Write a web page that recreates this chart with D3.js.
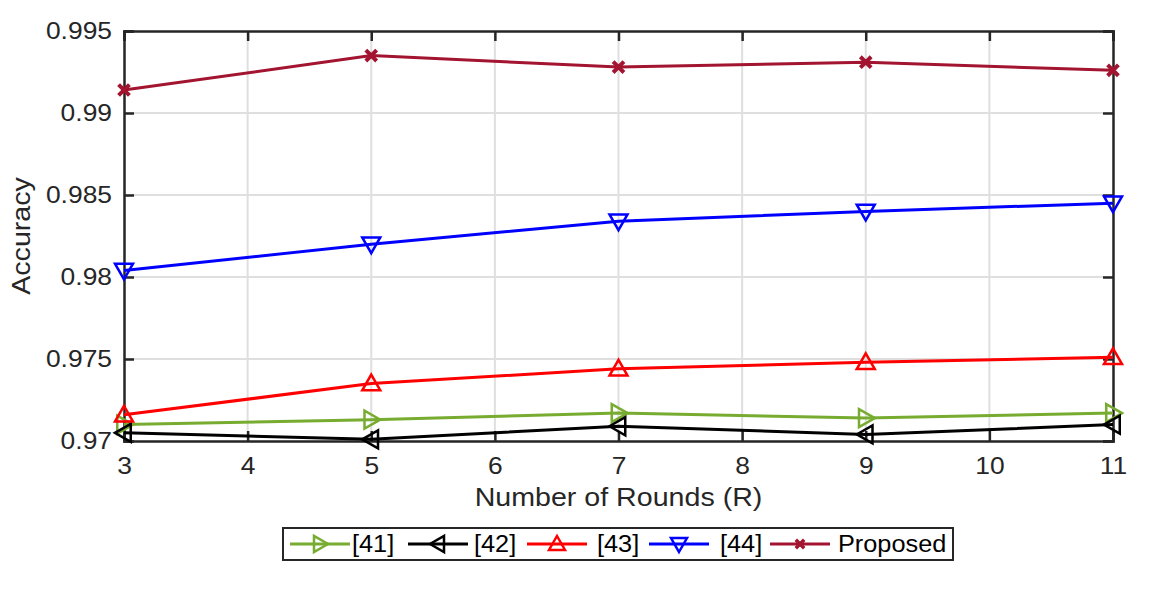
<!DOCTYPE html>
<html>
<head>
<meta charset="utf-8">
<script src="https://cdn.jsdelivr.net/npm/d3@7"></script>
<style>
  body { margin: 0; background: #fff; }
  text { font-family: "Liberation Sans", Arial, sans-serif; }
</style>
</head>
<body>
<div id="chart"></div>
<script>
var rounds = [3, 5, 7, 9, 11];
var xTicks = [3, 4, 5, 6, 7, 8, 9, 10, 11];
var yTicks = [0.97, 0.975, 0.98, 0.985, 0.99, 0.995];

var acc41 = [0.9710, 0.9713, 0.9717, 0.9714, 0.9717];
var acc42 = [0.9705, 0.9701, 0.9709, 0.9704, 0.9710];
var acc43 = [0.9716, 0.9735, 0.9744, 0.9748, 0.9751];
var acc44 = [0.9804, 0.9820, 0.9834, 0.9840, 0.9845];
var accProposed = [0.9914, 0.9935, 0.9928, 0.9931, 0.9926];

var seriesNames = ["[41]", "[42]", "[43]", "[44]", "Proposed"];

var series = [
  { name: seriesNames[0], values: acc41, color: "#77AC30", marker: "right" },
  { name: seriesNames[1], values: acc42, color: "#000000", marker: "left" },
  { name: seriesNames[2], values: acc43, color: "#FF0000", marker: "up" },
  { name: seriesNames[3], values: acc44, color: "#0000FF", marker: "down" },
  { name: seriesNames[4], values: accProposed, color: "#A2142F", marker: "x" }
];

var width = 1149, height = 589;
var margin = { left: 124, right: 36, top: 31, bottom: 148 };
var axisColor = "#262626";
var stretch = 1.1; // text in the original is a bit wider than Arial

var svg = d3.select("#chart").append("svg")
  .attr("width", width)
  .attr("height", height);

var x = d3.scaleLinear().domain([3, 11]).range([margin.left, width - margin.right]);
var y = d3.scaleLinear().domain([0.97, 0.995]).range([height - margin.bottom, margin.top]);

var x0 = x.range()[0], x1 = x.range()[1], y0 = y.range()[0], y1 = y.range()[1];

// grid
svg.append("g").selectAll("line").data(xTicks.slice(1, -1)).enter().append("line")
  .attr("x1", function (d) { return x(d); }).attr("x2", function (d) { return x(d); })
  .attr("y1", y1).attr("y2", y0)
  .attr("stroke", "#dfdfdf").attr("stroke-width", 2);
svg.append("g").selectAll("line").data(yTicks.slice(1, -1)).enter().append("line")
  .attr("y1", function (d) { return y(d); }).attr("y2", function (d) { return y(d); })
  .attr("x1", x0).attr("x2", x1)
  .attr("stroke", "#dfdfdf").attr("stroke-width", 2);

// axes (ticks inward on all four sides)
var tickLen = 10;
svg.append("g").attr("transform", "translate(0," + y0 + ")")
  .call(d3.axisBottom(x).tickValues(xTicks).tickSize(-tickLen).tickPadding(16).tickFormat(d3.format("d")));
svg.append("g").attr("transform", "translate(0," + y1 + ")")
  .call(d3.axisTop(x).tickValues(xTicks).tickSize(-tickLen).tickFormat(""));
svg.append("g").attr("transform", "translate(" + x0 + ",0)")
  .call(d3.axisLeft(y).tickValues(yTicks).tickSize(-tickLen).tickPadding(12).tickFormat(function (d) { return String(+d.toFixed(3)); }));
svg.append("g").attr("transform", "translate(" + x1 + ",0)")
  .call(d3.axisRight(y).tickValues(yTicks).tickSize(-tickLen).tickFormat(""));

svg.selectAll(".domain").attr("stroke", axisColor).attr("stroke-width", 2.5);
svg.selectAll(".tick line").attr("stroke", axisColor).attr("stroke-width", 2.5);
svg.selectAll(".tick text").attr("fill", axisColor)
  .attr("font-size", null).attr("font-family", null)
  .style("font-size", "24px");

// axis titles
svg.append("text")
  .attr("x", (x0 + x1) / 2).attr("y", 506)
  .attr("text-anchor", "middle").attr("fill", axisColor)
  .style("font-size", "26px").text("Number of Rounds (R)");
svg.append("text")
  .attr("transform", "translate(30," + ((y0 + y1) / 2) + ") rotate(-90)")
  .attr("text-anchor", "middle").attr("fill", axisColor)
  .style("font-size", "26px").text("Accuracy");

// marker shapes
function markerPath(type, s) {
  var h = s / 2;
  if (type == "up") return "M0," + (-h) + "L" + h + "," + (h * 0.75) + "L" + (-h) + "," + (h * 0.75) + "Z";
  if (type == "down") return "M0," + h + "L" + h + "," + (-h * 0.75) + "L" + (-h) + "," + (-h * 0.75) + "Z";
  if (type == "right") return "M" + h + ",0L" + (-h * 0.75) + "," + h + "L" + (-h * 0.75) + "," + (-h) + "Z";
  if (type == "left") return "M" + (-h) + ",0L" + (h * 0.75) + "," + h + "L" + (h * 0.75) + "," + (-h) + "Z";
  var k = h * 0.6;
  return "M" + (-k) + "," + (-k) + "L" + k + "," + k + "M" + (-k) + "," + k + "L" + k + "," + (-k);
}

var line = d3.line()
  .x(function (d, i) { return x(rounds[i]); })
  .y(function (d) { return y(d); });

series.forEach(function (s) {
  var g = svg.append("g");
  g.append("path")
    .datum(s.values)
    .attr("d", line)
    .attr("fill", "none")
    .attr("stroke", s.color)
    .attr("stroke-width", 3);
  g.selectAll("path.mk").data(s.values).enter().append("path")
    .attr("class", "mk")
    .attr("transform", function (d, i) { return "translate(" + x(rounds[i]) + "," + y(d) + ")"; })
    .attr("d", markerPath(s.marker, 18))
    .attr("fill", "none")
    .attr("stroke", s.color)
    .attr("stroke-width", s.marker == "x" ? 4 : 2.5);
});

// legend
var legend = svg.append("g");
legend.append("rect")
  .attr("x", 283).attr("y", 528).attr("width", 670).attr("height", 32)
  .attr("fill", "#fff").attr("stroke", axisColor).attr("stroke-width", 2);

var legendX = [290, 408, 527, 649, 770];
var legendTextX = [352, 474, 597, 720, 838];
series.forEach(function (s, i) {
  var lg = legend.append("g");
  lg.append("line")
    .attr("x1", legendX[i]).attr("x2", legendX[i] + 60)
    .attr("y1", 544).attr("y2", 544)
    .attr("stroke", s.color).attr("stroke-width", 3);
  lg.append("path")
    .attr("transform", "translate(" + (legendX[i] + 30) + ",544)")
    .attr("d", markerPath(s.marker, s.marker == "x" ? 14 : 16))
    .attr("fill", "none").attr("stroke", s.color)
    .attr("stroke-width", s.marker == "x" ? 3.5 : 2.5);
  lg.append("text")
    .attr("x", legendTextX[i]).attr("y", 552)
    .attr("fill", "#000")
    .style("font-size", "23px")
    .text(s.name);
});

// widen all text a little to match the original's glyph proportions
svg.selectAll("text").each(function () {
  var len = this.getComputedTextLength();
  if (len > 0) {
    d3.select(this).attr("textLength", len * stretch).attr("lengthAdjust", "spacingAndGlyphs");
  }
});
</script>
</body>
</html>
